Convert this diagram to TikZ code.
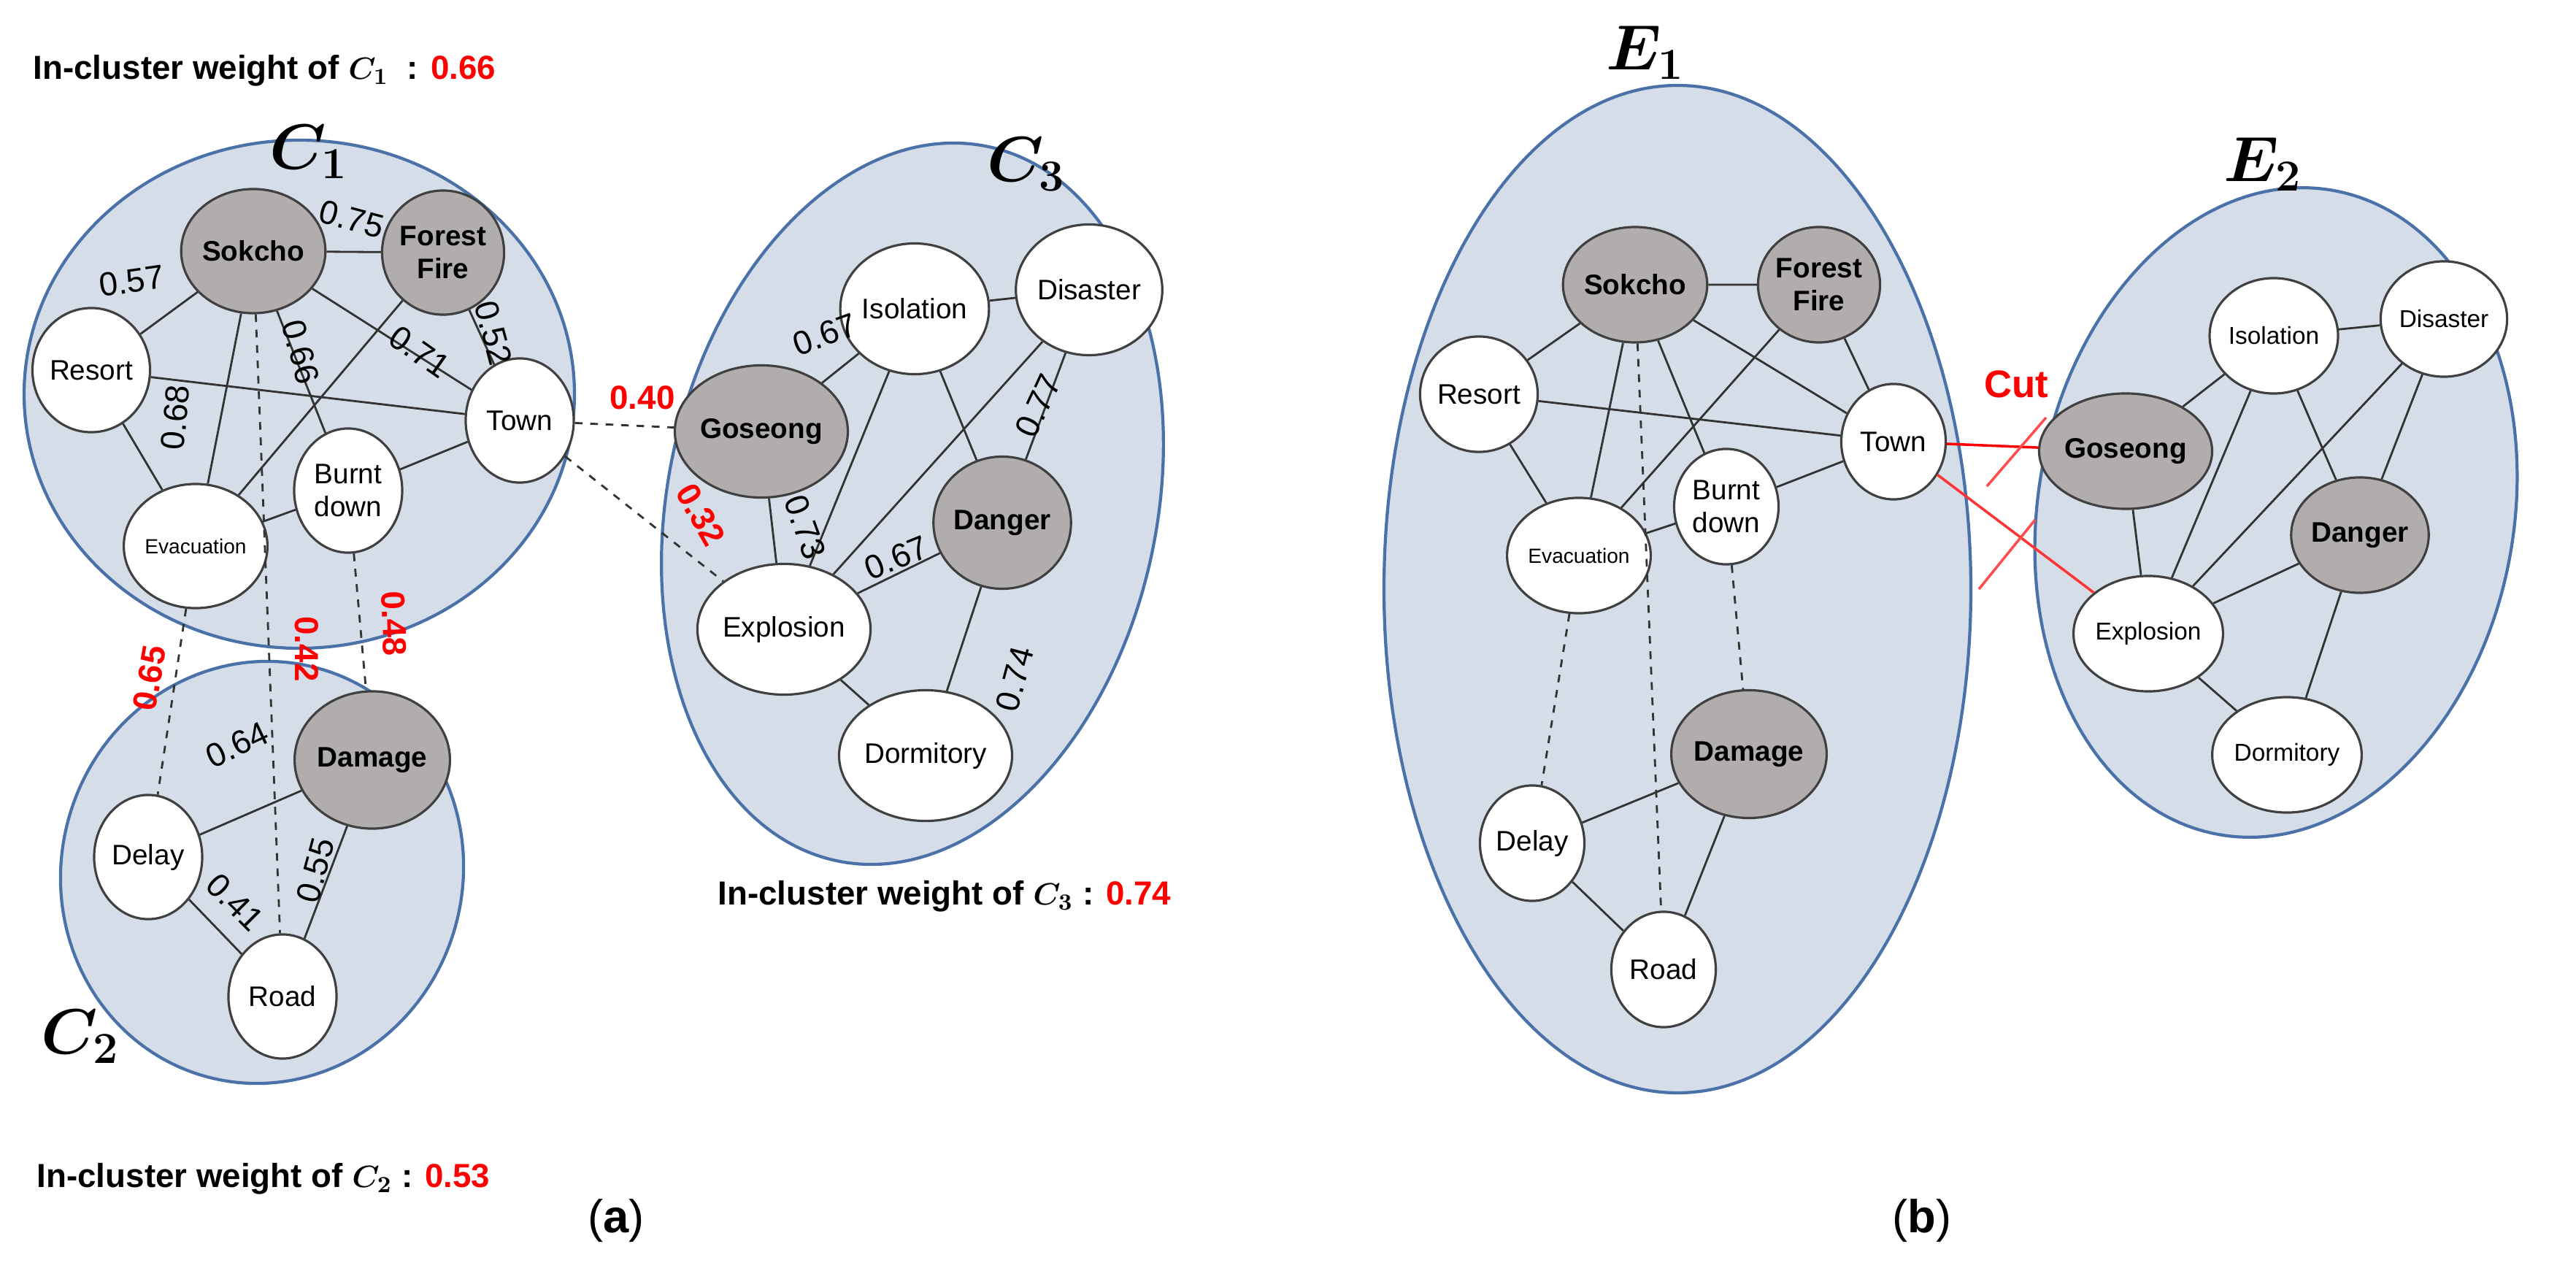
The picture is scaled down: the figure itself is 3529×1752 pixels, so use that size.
\documentclass[tikz,border=0pt]{standalone}
\usepackage{amsmath}
\usepackage{bm}
\usepackage{fontspec}
\setmainfont{Liberation Sans}
\usetikzlibrary{shapes.geometric}
\definecolor{clfill}{HTML}{D5DEE8}
\definecolor{clline}{HTML}{4A72A8}
\definecolor{gnode}{HTML}{B1ADAD}
\definecolor{myred}{HTML}{FF0000}
\begin{document}
\begin{tikzpicture}[x=0.01cm,y=-0.01cm,
  cl/.style={fill=clfill,draw=clline,line width=1.2pt},
  nd/.style={ellipse,draw=black!75,line width=0.9pt,fill=white,minimum width=1.48cm,minimum height=1.7cm,inner sep=0pt,font=\fontsize{11}{13}\selectfont,align=center},
  gn/.style={nd,fill=gnode,font=\fontsize{11}{13}\selectfont\bfseries},
  ndb/.style={nd,minimum width=1.43cm,minimum height=1.58cm},
  gnb/.style={gn,minimum width=1.43cm,minimum height=1.58cm},
  ed/.style={draw=black!80,line width=0.8pt},
  dd/.style={ed,dashed},
  wl/.style={font=\fontsize{13}{15}\selectfont,inner sep=0pt},
  rl/.style={font=\fontsize{13}{15}\selectfont\bfseries,text=myred,inner sep=0pt},
  cut/.style={draw=myred!70,line width=1pt},
  ttl/.style={font=\fontsize{13}{15}\selectfont\bfseries,anchor=west,inner sep=0pt},
  cl lab/.style={font=\fontsize{26}{28}\selectfont,inner sep=0pt}]
\useasboundingbox (0,0) rectangle (3529,1752);
% clusters
\draw[cl] (410,540) ellipse [x radius=377,y radius=348];
\draw[cl,rotate around={-15:(359,1195)}] (359,1195) ellipse [x radius=275,y radius=290];
\draw[cl,rotate around={-12:(1250,690)}] (1250,690) ellipse [x radius=335,y radius=500];
\draw[cl] (2298,807) ellipse [x radius=402,y radius=690];
\draw[cl,rotate around={-10:(3118,702)}] (3118,702) ellipse [x radius=326,y radius=448];
% ---------- panel a nodes
\node[gn] (sok) at (347,344) {Sokcho};
\node[gn] (for) at (607,346) {Forest\\Fire};
\node[nd] (res) at (125,507) {Resort};
\node[nd] (tow) at (712,576) {Town};
\node[nd] (bur) at (477,672) {Burnt\\down};
\node[nd,font=\fontsize{8}{10}\selectfont] (eva) at (268,748) {Evacuation};
\node[gn,minimum width=1.75cm,minimum height=1.88cm] (dam) at (510,1041) {Damage};
\node[nd] (del) at (203,1174) {Delay};
\node[nd] (roa) at (387,1365) {Road};
\node[nd,minimum width=1.68cm,minimum height=1.79cm] (iso) at (1253,423) {Isolation};
\node[nd,minimum width=1.68cm,minimum height=1.79cm] (dis) at (1492,397) {Disaster};
\node[gn,minimum width=1.73cm,minimum height=1.81cm] (gos) at (1043,591) {Goseong};
\node[gn,minimum width=1.73cm,minimum height=1.81cm] (dan) at (1373,716) {Danger};
\node[nd,minimum width=1.68cm,minimum height=1.79cm] (exp) at (1074,862) {Explosion};
\node[nd,minimum width=1.8cm,minimum height=1.79cm] (dor) at (1268,1035) {Dormitory};
% panel a edges
\draw[ed] (sok)--(for) (sok)--(res) (sok)--(eva) (sok)--(bur) (sok)--(tow)
  (for)--(tow) (for)--(eva) (res)--(tow) (res)--(eva) (eva)--(bur) (bur)--(tow)
  (del)--(dam) (del)--(roa) (dam)--(roa)
  (iso)--(dis) (iso)--(gos) (iso)--(exp) (iso)--(dan) (dis)--(exp) (dis)--(dan)
  (gos)--(exp) (exp)--(dan) (exp)--(dor) (dan)--(dor);
\draw[dd] (sok)--(roa) (eva)--(del) (bur)--(dam) (tow)--(gos) (tow)--(exp);
% weights
\node[wl,rotate=-15] (w1) at (482,300) {0.75};
\node[wl,rotate=8] (w2) at (180,385) {0.57};
\node[wl,rotate=-75] (w3) at (412,482) {0.66};
\node[wl,rotate=85] (w4) at (240,572) {0.68};
\node[wl,rotate=-35] (w5) at (575,482) {0.71};
\node[wl,rotate=-75] (w6) at (676,456) {0.52};
\node[wl,rotate=25] (w7) at (325,1020) {0.64};
\node[wl,rotate=-45] (w8) at (322,1236) {0.41};
\node[wl,rotate=75] (w9) at (432,1192) {0.55};
\node[wl,rotate=20] (w10) at (1130,458) {0.67};
\node[wl,rotate=-70] (w11) at (1103,722) {0.73};
\node[wl,rotate=22] (w12) at (1228,764) {0.67};
\node[wl,rotate=65] (w13) at (1422,556) {0.77};
\node[wl,rotate=75] (w14) at (1390,930) {0.74};
\node[rl] (r1) at (880,545) {0.40};
\node[rl,rotate=-60] (r2) at (960,705) {0.32};
\node[rl,rotate=80] (r3) at (205,929) {0.65};
\node[rl,rotate=-90] (r4) at (420,889) {0.42};
\node[rl,rotate=-88] (r5) at (540,854) {0.48};
% titles
\node[cl lab] (lc1) at (423,208) {$\bm{C_1}$};
\node[cl lab] (lc3) at (1406,225) {$\bm{C_3}$};
\node[cl lab] (lc2) at (110,1420) {$\bm{C_2}$};
\node[ttl] (t1) at (45,97) {In-cluster weight of $\bm{C_1}$\ \ : \textcolor{myred}{0.66}};
\node[ttl] (t3) at (983,1228) {In-cluster weight of $\bm{C_3}$ : \textcolor{myred}{0.74}};
\node[ttl] (t2) at (50,1615) {In-cluster weight of $\bm{C_2}$ : \textcolor{myred}{0.53}};
\node[font=\fontsize{18}{20}\selectfont] (pa) at (844,1672) {(\textbf{a})};
\node[font=\fontsize{18}{20}\selectfont] (pb) at (2633,1672) {(\textbf{b})};
% ---------- panel b
\node[gnb] (bsok) at (2240,390) {Sokcho};
\node[gnb] (bfor) at (2492,390) {Forest\\Fire};
\node[ndb] (bres) at (2026,540) {Resort};
\node[ndb] (btow) at (2594,605) {Town};
\node[ndb] (bbur) at (2365,694) {Burnt\\down};
\node[ndb,font=\fontsize{8}{10}\selectfont] (beva) at (2163,761) {Evacuation};
\node[gnb,minimum width=1.7cm,minimum height=1.75cm] (bdam) at (2396,1033) {Damage};
\node[ndb] (bdel) at (2099,1155) {Delay};
\node[ndb] (broa) at (2279,1328) {Road};
\node[ndb,font=\fontsize{9.5}{11}\selectfont] (biso) at (3115,460) {Isolation};
\node[ndb,font=\fontsize{9.5}{11}\selectfont] (bdis) at (3348,437) {Disaster};
\node[gnb] (bgos) at (2912,618) {Goseong};
\node[gnb] (bdan) at (3233,733) {Danger};
\node[ndb,font=\fontsize{9.5}{11}\selectfont] (bexp) at (2943,868) {Explosion};
\node[ndb,font=\fontsize{9.5}{11}\selectfont,minimum width=1.6cm] (bdor) at (3133,1034) {Dormitory};
\draw[ed] (bsok)--(bfor) (bsok)--(bres) (bsok)--(beva) (bsok)--(bbur) (bsok)--(btow)
  (bfor)--(btow) (bfor)--(beva) (bres)--(btow) (bres)--(beva) (beva)--(bbur) (bbur)--(btow)
  (bdel)--(bdam) (bdel)--(broa) (bdam)--(broa)
  (biso)--(bdis) (biso)--(bgos) (biso)--(bexp) (biso)--(bdan) (bdis)--(bexp) (bdis)--(bdan)
  (bgos)--(bexp) (bexp)--(bdan) (bexp)--(bdor) (bdan)--(bdor);
\draw[dd] (bsok)--(broa) (beva)--(bdel) (bbur)--(bdam);
\draw[draw=myred,line width=1pt] (btow)--(bgos);
\draw[draw=myred!80,line width=1pt] (btow)--(bexp);
\coordinate (c1a) at (2722,666); \coordinate (c1b) at (2803,572);
\coordinate (c2a) at (2711,807); \coordinate (c2b) at (2788,712);
\draw[cut] (c1a)--(c1b) (c2a)--(c2b);
\node[font=\fontsize{15}{17}\selectfont\bfseries,text=myred] (cutl) at (2762,526) {Cut};
\node[cl lab] (le1) at (2254,72) {$\bm{E_1}$};
\node[cl lab] (le2) at (3100,225) {$\bm{E_2}$};
\end{tikzpicture}
\end{document}
